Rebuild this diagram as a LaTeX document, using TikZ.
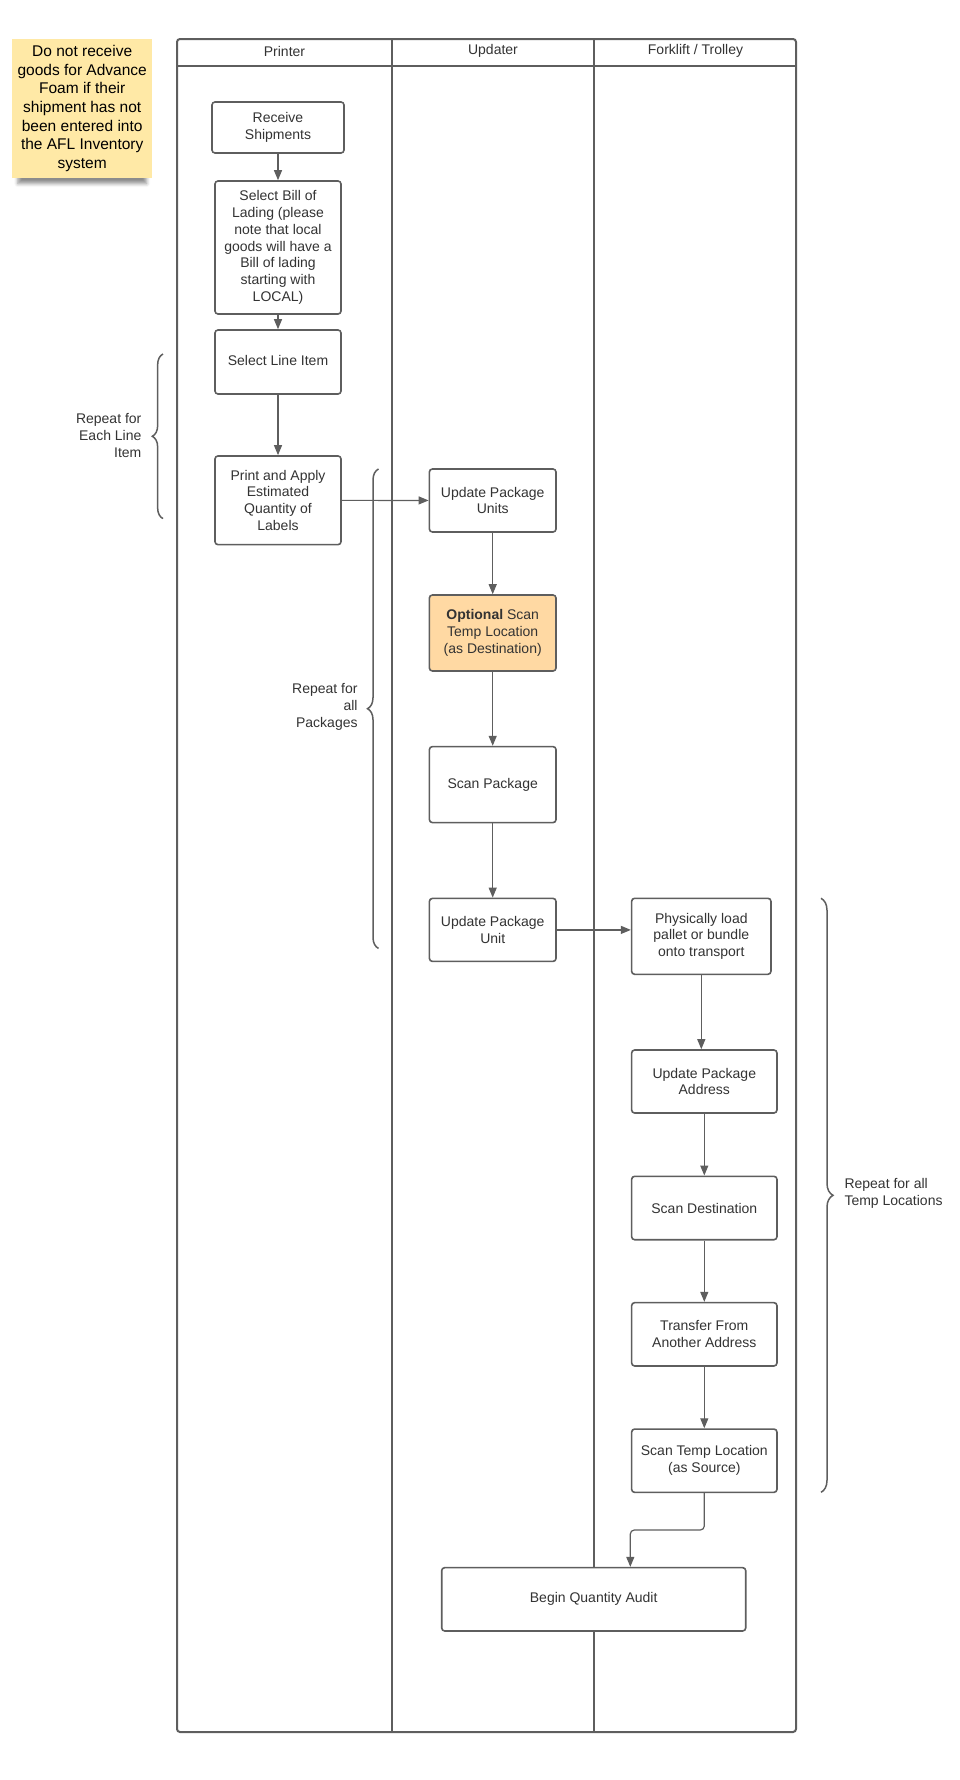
\documentclass[tikz,border=0pt]{standalone}
\usepackage{fontspec}
\setmainfont{Liberation Sans}
\usetikzlibrary{arrows.meta,decorations.pathreplacing,shadows.blur}

\definecolor{linegray}{HTML}{5E5E5E}
\definecolor{txtgray}{HTML}{333333}
\definecolor{notefill}{HTML}{FFE9A6}
\definecolor{optfill}{HTML}{FFD9A3}

\begin{document}
\begin{tikzpicture}[x=1pt,y=-1pt]
    \tikzstyle{procbox} = [draw=linegray, line width=1.6pt, rounded corners=3pt, fill=white, text=txtgray, align=center, inner sep=0pt, font=\fontsize{14}{16.8}\selectfont]
    \tikzstyle{flow} = [draw=linegray, line width=1.2pt, -{Triangle[length=10pt,width=8pt]}]
    \tikzstyle{lanehead} = [text=txtgray, font=\fontsize{14}{16.8}\selectfont]
    \tikzstyle{repeatlbl} = [text=txtgray, inner sep=0pt, font=\fontsize{14}{16.8}\selectfont]
    \tikzstyle{rbrace} = [draw=linegray, line width=1.5pt, decorate]
    \useasboundingbox (0,0) rectangle (960,1780);

    % pool and lanes
    \draw[draw=linegray, line width=2pt, rounded corners=3pt] (177,39) rectangle (796,1732);
    \draw[draw=linegray, line width=2pt] (177,66) -- (796,66);
    \draw[draw=linegray, line width=2pt] (392,39) -- (392,1732);
    \draw[draw=linegray, line width=2pt] (594,39) -- (594,1732);
    \node[lanehead] (hprinter) at (284.5,51) {Printer};
    \node[lanehead] (hupdater) at (493,51) {Updater};
    \node[lanehead] (hforklift) at (695.5,51) {Forklift / Trolley};

    % sticky note
    \node[fill=notefill, minimum width=139.7pt, minimum height=139pt, inner sep=0pt, align=center,
          font=\fontsize{15.5}{18.7}\selectfont,
          blur shadow={shadow xshift=0pt, shadow yshift=-12pt, shadow blur radius=4pt, shadow opacity=45, shadow scale=0.92}]
        (memo) at (82.2,108.5) {Do not receive\\goods for Advance\\Foam if their\\shipment has not\\been entered into\\the AFL Inventory\\system};

    % Printer lane
    \node[procbox, minimum width=132pt, minimum height=51pt] (recv) at (278,127.5) {Receive\\Shipments};
    \node[procbox, minimum width=126pt, minimum height=133pt] (bill) at (278,247.5) {Select Bill of\\Lading (please\\note that local\\goods will have a\\Bill of lading\\starting with\\LOCAL)};
    \node[procbox, minimum width=126pt, minimum height=64pt] (lineitem) at (278,362) {\raisebox{3pt}{Select Line Item}};
    \node[procbox, minimum width=126pt, minimum height=88.7pt] (print) at (278,500.3) {Print and Apply\\Estimated\\Quantity of\\Labels};

    % Updater lane
    \node[procbox, minimum width=126.6pt, minimum height=63pt] (units) at (492.7,500.5) {Update Package\\Units};
    \node[procbox, fill=optfill, minimum width=126.6pt, minimum height=76pt] (optional) at (492.7,633) {\textbf{Optional} Scan\\Temp Location\\(as Destination)};
    \node[procbox, minimum width=126.6pt, minimum height=76pt] (scanpkg) at (492.7,784.6) {Scan Package};
    \node[procbox, minimum width=126.6pt, minimum height=63pt] (unit) at (492.7,929.9) {Update Package\\Unit};

    % Forklift / Trolley lane
    \node[procbox, minimum width=139.3pt, minimum height=76pt] (load) at (701.3,936.3) {Physically load\\pallet or bundle\\onto transport};
    \node[procbox, minimum width=145.3pt, minimum height=63pt] (address) at (704.3,1081.5) {Update Package\\Address};
    \node[procbox, minimum width=145.3pt, minimum height=63.4pt] (dest) at (704.3,1208) {Scan Destination};
    \node[procbox, minimum width=145.3pt, minimum height=63.3pt] (transfer) at (704.3,1334.3) {Transfer From\\Another Address};
    \node[procbox, minimum width=145.3pt, minimum height=63.3pt] (source) at (704.3,1460.7) {Scan Temp Location\\(as Source)};
    \node[procbox, minimum width=304pt, minimum height=63.3pt] (audit) at (593.7,1599.3) {Begin Quantity Audit};

    % connectors
    \draw[flow] (recv) -- (bill);
    \draw[flow] (bill) -- (lineitem);
    \draw[flow] (lineitem) -- (print);
    \draw[flow] (print) -- (units);
    \draw[flow] (units) -- (optional);
    \draw[flow] (optional) -- (scanpkg);
    \draw[flow] (scanpkg) -- (unit);
    \draw[flow] (unit.east) -- (unit.east -| load.west);
    \draw[flow] (load.south) -- (load.south |- address.north);
    \draw[flow] (address) -- (dest);
    \draw[flow] (dest) -- (transfer);
    \draw[flow] (transfer) -- (source);
    \coordinate (bend) at (630.3,1530);
    \draw[flow, rounded corners=4pt] (source.south) |- (bend) -- (bend |- audit.north);

    % repeat braces
    \draw[rbrace, decoration={brace, amplitude=10.7pt}] (163,518.6) -- (163,354);
    \node[repeatlbl, anchor=east, align=right] (rep1) at (141.6,435.2) {Repeat for\\Each Line\\Item};
    \draw[rbrace, decoration={brace, amplitude=11pt}] (378.5,948.4) -- (378.5,469);
    \node[repeatlbl, anchor=east, align=right] (rep2) at (357.8,707) {Repeat for\\all\\Packages};
    \draw[rbrace, decoration={brace, amplitude=12pt}] (821,898.3) -- (821,1492.3);
    \node[repeatlbl, anchor=west, align=left] (rep3) at (844.3,1193.7) {Repeat for all\\Temp Locations};
\end{tikzpicture}
\end{document}
